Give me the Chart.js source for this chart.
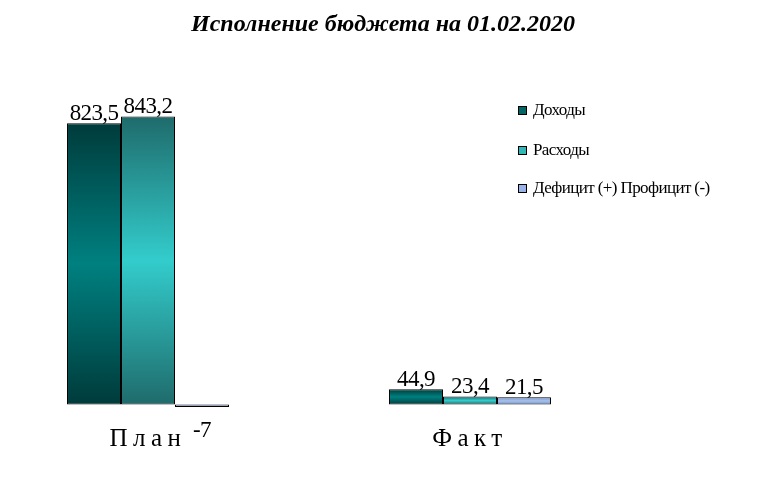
<!DOCTYPE html>
<html>
<head>
<meta charset="utf-8">
<script src="https://cdn.jsdelivr.net/npm/chart.js@4"></script>
<style>
  html, body { margin: 0; padding: 0; background: #fff; }
  #wrap { width: 766px; height: 480px; position: relative; }
</style>
</head>
<body>
<div id="wrap"><canvas id="budgetChart" width="766" height="480"></canvas></div>
<script>
"use strict";

/* global Chart */

// Data
const categories = ["План", "Факт"];
const seriesNames = ["Доходы", "Расходы", "Дефицит (+) Профицит (-)"];
const incomeValues = [823.5, 44.9];
const expenseValues = [843.2, 23.4];
const deficitValues = [-7, 21.5];
const chartTitle = "Исполнение бюджета на 01.02.2020";

// Gradient stops per series: edge, middle, edge
const seriesColors = [
    ["#003b3b", "#008080", "#003b3b"],
    ["#1f6b6b", "#33cccc", "#1f6b6b"],
    ["#6f8fc8", "#a9c2ee", "#6f8fc8"]
];
const legendSwatch = ["#006666", "#2fb8b8", "#99b3e6"];

function gradientFor(idx) {
    return function (context) {
        const chart = context.chart;
        const y = chart.scales.y;
        if (!y || context.raw === undefined) return seriesColors[idx][1];
        const top = y.getPixelForValue(Math.max(context.raw, 0));
        const bottom = y.getPixelForValue(Math.min(context.raw, 0));
        if (!isFinite(top) || !isFinite(bottom) || Math.abs(bottom - top) < 3) return seriesColors[idx][1];
        const g = chart.ctx.createLinearGradient(0, top, 0, bottom);
        g.addColorStop(0, seriesColors[idx][0]);
        g.addColorStop(0.5, seriesColors[idx][1]);
        g.addColorStop(1, seriesColors[idx][2]);
        return g;
    };
}

// Title drawn centred on the whole canvas
const pageTitle = {
    id: "pageTitle",
    afterDraw(chart) {
        const ctx = chart.ctx;
        ctx.save();
        ctx.letterSpacing = "0px";
        ctx.font = "italic bold 24px 'Liberation Serif'";
        ctx.fillStyle = "#000";
        ctx.textAlign = "center";
        ctx.textBaseline = "alphabetic";
        ctx.fillText(chartTitle, chart.width / 2, 31);
        ctx.restore();
    }
};

// Spaced-out category labels
const tickSpacing = {
    id: "tickSpacing",
    beforeDraw(chart) { chart.ctx.letterSpacing = "5.5px"; },
    beforeDatasetsDraw(chart) { chart.ctx.letterSpacing = "0px"; }
};

// Value labels above (or below) each bar
const valueLabels = {
    id: "valueLabels",
    afterDatasetsDraw(chart) {
        const ctx = chart.ctx;
        ctx.save();
        ctx.font = "23px 'Liberation Serif'";
        ctx.letterSpacing = "-0.6px";
        ctx.fillStyle = "#000";
        ctx.textAlign = "center";
        chart.data.datasets.forEach((ds, di) => {
            chart.getDatasetMeta(di).data.forEach((bar, i) => {
                const v = ds.data[i];
                const txt = String(v).replace(".", ",");
                if (v >= 0) {
                    ctx.textBaseline = "bottom";
                    ctx.fillText(txt, bar.x, bar.y + 2);
                } else {
                    ctx.textBaseline = "top";
                    ctx.fillText(txt, bar.x, bar.y + 12);
                }
            });
        });
        ctx.restore();
    }
};

// Legend on the right
const sideLegend = {
    id: "sideLegend",
    afterDraw(chart) {
        const ctx = chart.ctx;
        const x = 518;
        const rows = [110, 150, 188];
        ctx.save();
        ctx.font = "17px 'Liberation Serif'";
        ctx.letterSpacing = "-0.6px";
        ctx.textBaseline = "middle";
        ctx.textAlign = "left";
        seriesNames.forEach((name, i) => {
            ctx.fillStyle = legendSwatch[i];
            ctx.fillRect(x, rows[i] - 4, 9, 9);
            ctx.strokeStyle = "#000";
            ctx.lineWidth = 1;
            ctx.strokeRect(x + 0.5, rows[i] - 3.5, 8, 8);
            ctx.fillStyle = "#000";
            ctx.fillText(name, x + 15, rows[i] + 1);
        });
        ctx.restore();
    }
};

document.addEventListener("DOMContentLoaded", function () {
    const ctx = document.getElementById("budgetChart").getContext("2d");

    const values = [incomeValues, expenseValues, deficitValues];

    new Chart(ctx, {
        type: "bar",
        data: {
            labels: categories,
            datasets: seriesNames.map((name, i) => ({
                label: name,
                data: values[i],
                backgroundColor: gradientFor(i),
                borderColor: "#000",
                borderWidth: 1,
                borderSkipped: false,
                clip: false,
                categoryPercentage: 0.503,
                barPercentage: 1.0
            }))
        },
        options: {
            responsive: false,
            animation: false,
            layout: { padding: { left: 148, right: 296, top: 97, bottom: 10 } },
            plugins: {
                legend: { display: false },
                tooltip: { enabled: false },
                title: { display: false }
            },
            scales: {
                x: {
                    offset: false,
                    grid: { display: false, drawTicks: false },
                    border: { display: false },
                    ticks: {
                        color: "#000",
                        padding: 16,
                        font: { family: "'Liberation Serif'", size: 25 }
                    }
                },
                y: {
                    display: false,
                    min: -10,
                    max: 900
                }
            }
        },
        plugins: [tickSpacing, valueLabels, sideLegend, pageTitle]
    });
});
</script>
</body>
</html>
